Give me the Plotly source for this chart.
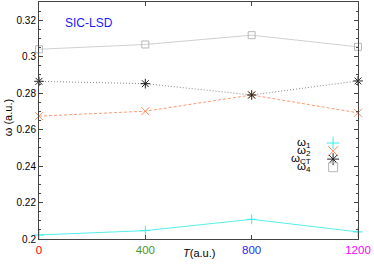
import plotly.graph_objects as go

# ---- data ----
T = [0, 400, 800, 1200]
w1 = [0.2022, 0.2046, 0.2108, 0.2039]
w2 = [0.2674, 0.2701, 0.2790, 0.2692]
wct = [0.2865, 0.2852, 0.2790, 0.2867]
w4 = [0.3041, 0.3067, 0.3118, 0.3054]

x_ticks = [0, 400, 800, 1200]
x_tick_colors = ["#ff0000", "#4b9a1e", "#2a2aff", "#ff00ff"]
y_ticks = [0.2, 0.22, 0.24, 0.26, 0.28, 0.3, 0.32]
y_tick_labels = ["0.2", "0.22", "0.24", "0.26", "0.28", "0.3", "0.32"]

series_names = ["ω<sub>1</sub>", "ω<sub>2</sub>", "ω<sub>CT</sub>", "ω<sub>4</sub>"]
series_values = [w1, w2, wct, w4]
series_colors = ["#33eeee", "#ff8c5a", "#222222", "#b8b8b8"]
line_colors = ["#55eeee", "#ff9a70", "#888888", "#d0d0d0"]
line_dash = ["solid", "3px,2px", "1px,2px", "solid"]
symbols = ["cross-thin", "x-thin", "asterisk-open", "square-open"]
marker_sizes = [7, 8, 8, 7]

FONT = "Liberation Sans, Arial, sans-serif"

fig = go.Figure()

for name, vals, mc, lc, dash, sym, ms in zip(series_names, series_values, series_colors,
                                         line_colors, line_dash, symbols, marker_sizes):
    fig.add_trace(go.Scatter(
        x=T, y=vals, mode="lines+markers", name=name,
        line=dict(color=lc, width=1, dash=dash),
        marker=dict(symbol=sym, size=ms, color=mc, line=dict(color=mc, width=1)),
        cliponaxis=False, showlegend=False,
    ))

# custom legend (text left, symbol right, gnuplot style)
leg_x_text = 0.858
leg_x_sym = 0.922
leg_y0 = 0.405
leg_dy = 0.034
for i, (name, mc, sym, ms) in enumerate(zip(series_names, series_colors, symbols, marker_sizes)):
    yy = leg_y0 - i * leg_dy
    fig.add_trace(go.Scatter(
        x=[leg_x_sym], y=[yy], xaxis="x2", yaxis="y2", mode="markers",
        marker=dict(symbol=sym, size=ms + 2, color=mc, line=dict(color=mc, width=1)),
        showlegend=False, hoverinfo="skip", cliponaxis=False,
    ))
    fig.add_annotation(
        x=leg_x_text, y=yy, xref="paper", yref="paper", text=name,
        showarrow=False, xanchor="right", yanchor="middle",
        font=dict(family=FONT, size=11.5, color="#000000"),
    )

tick_text = [f"<span style='color:{c}'>{t}</span>" for t, c in zip(x_ticks, x_tick_colors)]

fig.update_layout(
    width=374, height=264,
    margin=dict(l=39, r=16, t=2, b=25),
    paper_bgcolor="white", plot_bgcolor="white",
    font=dict(family=FONT, size=10, color="#000000"),
    xaxis=dict(
        range=[0, 1200], tickvals=x_ticks, ticktext=tick_text,
        ticks="inside", ticklen=4, tickcolor="#444444", mirror="allticks",
        showline=True, linecolor="#444444", linewidth=1,
        showgrid=False, zeroline=False,
        tickfont=dict(family=FONT, size=11.5),
    ),
    yaxis=dict(
        range=[0.2, 0.33], tickvals=y_ticks, ticktext=y_tick_labels,
        ticks="inside", ticklen=4, tickcolor="#444444", mirror="allticks",
        showline=True, linecolor="#444444", linewidth=1,
        showgrid=False, zeroline=False,
        minor=dict(dtick=0.005, ticks="inside", ticklen=2, tickcolor="#444444"),
        tickfont=dict(family=FONT, size=10),
    ),
    xaxis2=dict(range=[0, 1], overlaying="x", visible=False),
    yaxis2=dict(range=[0, 1], overlaying="y", visible=False),
    showlegend=False,
)

fig.add_annotation(
    x=0.5, y=-0.025, xref="paper", yref="paper", yanchor="top",
    text="<i>T</i>(a.u.)", showarrow=False,
    font=dict(family=FONT, size=11, color="#000000"),
)
fig.add_annotation(
    x=-0.097, y=0.51, xref="paper", yref="paper", textangle=-90,
    text="ω (a.u.)", showarrow=False, xanchor="center", yanchor="middle",
    font=dict(family=FONT, size=11, color="#000000"),
)
fig.add_annotation(
    x=0.075, y=0.91, xref="paper", yref="paper", xanchor="left", yanchor="middle",
    text="SIC-LSD", showarrow=False,
    font=dict(family=FONT, size=12, color="#1a1aff"),
)

fig.write_html("out.html", config={"displayModeBar": False},
               post_script="document.body.style.margin='0';")
